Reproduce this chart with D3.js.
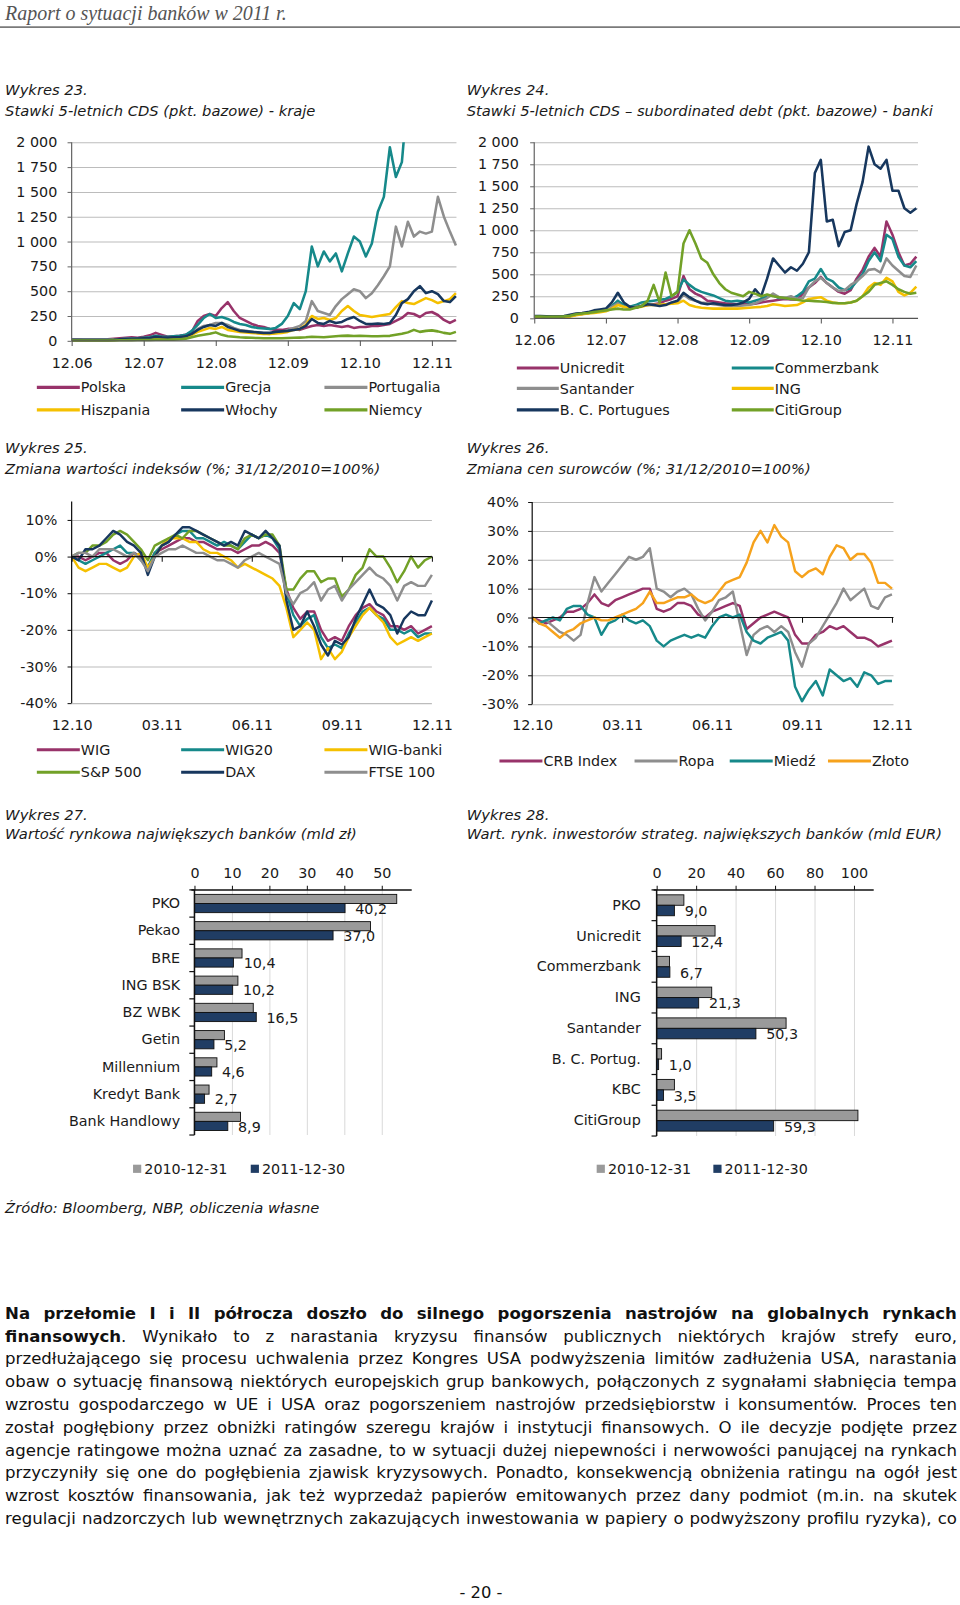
<!DOCTYPE html>
<html><head><meta charset="utf-8">
<script src="https://cdn.jsdelivr.net/npm/d3@7"></script>
<style>
html,body{margin:0;padding:0;background:#fff;}
svg{display:block;}
</style></head><body>
<svg id="page" width="960" height="1605"></svg>
<script>
// ---------------- DATA ----------------
// Wykres 23 / 24: monthly samples, month 0 = 12.2006 ... month 64 = 04.2012
const cdsMonths = d3.range(65);
const cdsTicks = [0,250,500,750,1000,1250,1500,1750,2000];
const cdsXTicks = [0,12,24,36,48,60];
const cdsXLabels = ['12.06','12.07','12.08','12.09','12.10','12.11'];

const names23 = ['Polska','Grecja','Portugalia','Hiszpania','Włochy','Niemcy'];
const polska23 = [15,15,14,14,13,14,15, 20,25,30,35,30, 40,55,80,60,40,45,50,60,
  90,200,250,270,250,330,390,300,230,200, 170,150,140,120,110,110,120,120,110,130,
  150,160,150,160,150,140,150,130,140,140, 150,150,160,170,200,230,280,270,240,280, 290,260,210,180,210];
const grecja23 = [10,10,10,10,10,10,10, 12,15,20,22,25, 30,35,50,40,40,45,50,60,
  100,160,230,270,230,240,220,190,170,160, 140,130,125,120,130,170,250,380,320,500,
  950,750,900,800,880,700,880,1050,1000,850, 980,1300,1450,1950,1650,1800,2500,3000,3500,4500, 6000,8000,9000,8000,7000];
const portugalia23 = [10,10,10,10,10,10,10, 12,15,18,20,20, 22,25,35,30,30,32,35,40,
  60,120,150,160,180,180,160,130,110,100, 90,80,75,70,80,90,110,130,150,200,
  400,300,280,260,350,420,470,520,500,430, 480,560,650,750,1150,950,1200,1050,1100,1080, 1100,1450,1250,1100,960];
const hiszpania23 = [5,5,5,5,5,5,5, 8,10,12,15,15, 18,20,30,25,25,28,30,40,
  60,90,110,130,120,140,110,100,90,85, 80,75,70,70,75,80,90,110,120,160,
  250,220,230,210,230,300,350,300,260,250, 240,250,260,270,340,400,380,370,400,430, 410,380,400,420,480];
const wlochy23 = [8,8,8,8,8,8,8, 10,15,18,20,22, 25,28,40,35,32,35,38,45,
  70,110,140,160,150,180,140,120,100,95, 90,85,80,80,90,95,100,110,120,150,
  220,180,170,200,180,190,220,240,200,170, 170,175,170,180,260,380,420,500,550,480, 500,470,400,390,450];
const niemcy23 = [3,3,3,3,3,3,3, 4,5,6,7,8, 8,9,12,10,10,12,15,20,
  35,50,60,70,85,60,45,40,35,32, 30,28,26,25,25,26,28,30,32,35,
  40,38,36,40,45,50,52,48,50,48, 45,45,48,50,60,70,85,110,90,100, 105,95,80,70,90];

const names24 = ['Unicredit','Commerzbank','Santander','ING','B. C. Portugues','CitiGroup'];
const unicredit24 = [20,20,18,18,18,20,25, 40,50,60,70,80, 100,130,180,140,130,130,140,150,
  160,170,200,220,250,480,330,280,250,200, 190,180,170,165,160,160,160,165,180,190,
  200,210,220,215,210,280,350,400,470,400, 350,300,280,320,450,550,700,800,700,1100, 950,750,600,620,700];
const commerzbank24 = [20,20,18,18,18,20,25, 45,55,60,70,80, 100,140,200,150,130,150,180,190,
  200,210,220,250,300,440,380,330,300,280, 260,230,200,190,200,190,180,200,220,250,
  260,230,230,220,250,300,420,450,560,450, 420,350,320,340,420,500,650,750,650,950, 900,700,600,580,650];
const santander24 = [20,20,18,18,18,20,25, 40,50,60,70,80, 100,130,170,130,120,130,140,150,
  150,155,160,170,180,270,220,200,180,170, 160,150,140,140,140,145,150,170,200,230,
  280,240,230,250,220,230,350,420,460,400, 350,310,320,380,420,480,550,560,520,680, 600,540,480,470,600];
const ing24 = [15,15,14,14,14,15,20, 35,45,55,60,70, 80,110,150,130,120,120,130,150,
  150,155,160,165,170,200,150,130,120,115, 110,110,110,110,110,115,120,125,130,140,
  160,150,140,145,150,180,220,230,240,200, 180,170,170,180,200,250,350,400,380,460, 420,300,260,290,360];
const bcp24 = [25,25,22,20,20,25,40, 55,60,70,90,100, 110,180,290,180,130,120,140,160,
  150,140,150,180,200,290,240,200,170,160, 170,160,150,150,160,180,220,330,250,450,
  680,600,520,580,540,620,750,1650,1800,1100, 1120,820,980,1000,1300,1550,1950,1750,1700,1800, 1450,1450,1250,1200,1250];
const citi24 = [20,20,18,18,18,22,30, 45,55,60,70,80, 90,100,110,100,100,120,140,200,
  380,180,520,250,300,850,1000,850,680,630, 500,400,330,290,270,250,300,280,250,270,
  250,240,230,220,210,200,200,195,190,185, 175,170,170,180,200,250,300,380,400,420, 380,330,300,280,290];

// Wykres 25 / 26: weekly samples over 31.12.2010 - 30.12.2011 (x in months)
const weeks2011 = d3.range(53).map(i => i * 12 / 52);
const yearXTicks = [0,3,6,9,12];
const yearXLabels = ['12.10','03.11','06.11','09.11','12.11'];

const names25 = ['WIG','WIG20','WIG-banki','S&P 500','DAX','FTSE 100'];
const wig25 = [0,0,-1,0,1,1,-1,-2,-1,1, 0,-3,1,2,3,4,5,5,4,4, 3,2,2,2,1,2,3,3,4,3,
  1,-9,-14,-17,-15,-15,-20,-23,-22,-23, -19,-16,-14,-13,-15,-16,-19,-19,-20,-19, -21,-20,-19];
const wig20_25 = [0,-1,-2,-1,0,1,2,3,1,1, -1,-3,1,3,4,6,7,7,5,5, 4,3,4,3,2,4,6,5,6,5,
  2,-10,-16,-19,-17,-16,-22,-25,-24,-25, -21,-18,-15,-14,-16,-17,-20,-20,-21,-20, -22,-21,-21];
const wigBanki25 = [0,-3,-4,-3,-2,-2,-3,-4,-3,0, 1,-3,0,3,5,5,5,4,4,2, 1,1,0,-1,-3,-2,-3,-4,-5,-6,
  -8,-14,-22,-20,-18,-20,-28,-25,-28,-26, -22,-19,-16,-14,-16,-18,-22,-24,-23,-22, -23,-22,-21];
const sp500_25 = [0,1,1,3,3,4,6,7,6,4, 2,-1,3,4,5,6,5,7,7,6, 5,4,3,3,2,5,6,5,6,6,
  3,-9,-9,-6,-4,-4,-7,-6,-6,-11, -9,-5,-3,2,0,0,-3,-7,-4,0, -3,-1,0];
const dax25 = [0,-1,2,2,3,5,7,6,4,3, 1,-5,0,3,4,6,8,8,7,6, 5,4,3,4,3,7,6,5,7,5,
  3,-12,-20,-19,-15,-19,-24,-27,-23,-24, -22,-17,-13,-9,-13,-14,-16,-21,-17,-15, -16,-16,-12];
const ftse25 = [0,1,1,0,2,2,2,1,0,1, -1,-4,0,1,2,2,3,2,1,1, 0,-1,-1,-2,-3,-1,0,1,0,-1,
  -2,-10,-13,-10,-9,-7,-12,-9,-8,-12, -9,-7,-5,-3,-5,-6,-8,-12,-8,-7, -8,-8,-5];

const names26 = ['CRB Index','Ropa','Miedź','Złoto'];
const crb26 = [0,-1,-2,-1,0,2,2,3,5,8, 5,4,6,7,8,9,10,10,3,2, 3,5,5,4,1,0,2,3,4,5,
  4,-4,-2,0,1,2,1,0,-6,-9, -9,-6,-5,-3,-4,-3,-5,-7,-7,-8, -10,-9,-8];
const ropa26 = [0,-2,-1,-3,-5,-6,-8,-6,5,14, 9,12,15,18,21,20,21,24,10,9, 7,9,10,8,3,-1,2,6,7,9,
  -2,-13,-6,-4,-3,-5,-3,-5,-12,-17, -9,-7,-3,1,5,10,6,8,10,4, 3,7,8];
const miedz26 = [0,-2,-1,0,-1,3,4,4,1,0, -6,-2,-1,1,-1,-2,-1,-3,-8,-10, -8,-7,-6,-7,-6,-7,-3,0,1,0,
  1,-5,-8,-9,-7,-6,-5,-8,-24,-29, -25,-22,-27,-18,-20,-22,-21,-24,-19,-20, -23,-22,-22];
const zloto26 = [0,-2,-3,-5,-7,-5,-4,-2,-1,0, -1,-1,0,1,2,3,5,9,5,5, 6,7,7,8,6,5,6,9,12,13,
  14,19,26,30,26,32,28,26,16,14, 16,17,15,21,25,24,20,22,22,19, 12,12,10];

// Wykres 27 / 28
const barSeries = ['2010-12-31','2011-12-30'];
const banks27 = ['PKO','Pekao','BRE','ING BSK','BZ WBK','Getin','Millennium','Kredyt Bank','Bank Handlowy'];
const v27_2010 = [54.0,47.0,12.7,11.6,15.7,8.0,6.0,3.9,12.3];
const v27_2011 = [40.2,37.0,10.4,10.2,16.5,5.2,4.6,2.7,8.9];
const ticks27 = [0,10,20,30,40,50];
const banks28 = ['PKO','Unicredit','Commerzbank','ING','Santander','B. C. Portug.','KBC','CitiGroup'];
const v28_2010 = [13.8,29.6,6.5,27.9,65.6,2.5,9.0,102.0];
const v28_2011 = [9.0,12.4,6.7,21.3,50.3,1.0,3.5,59.3];
const ticks28 = [0,20,40,60,80,100];

const bodyLines = [
 '*Na przełomie I i II półrocza doszło do silnego pogorszenia nastrojów na globalnych rynkach',
 'finansowych*. Wynikało to z narastania kryzysu finansów publicznych niektórych krajów strefy euro,',
 'przedłużającego się procesu uchwalenia przez Kongres USA podwyższenia limitów zadłużenia USA, narastania',
 'obaw o sytuację finansową niektórych europejskich grup bankowych, połączonych z sygnałami słabnięcia tempa',
 'wzrostu gospodarczego w UE i USA oraz pogorszeniem nastrojów przedsiębiorstw i konsumentów. Proces ten',
 'został pogłębiony przez obniżki ratingów szeregu krajów i instytucji finansowych. O ile decyzje podjęte przez',
 'agencje ratingowe można uznać za zasadne, to w sytuacji dużej niepewności i nerwowości panującej na rynkach',
 'przyczyniły się one do pogłębienia zjawisk kryzysowych. Ponadto, konsekwencją obniżenia ratingu na ogół jest',
 'wzrost kosztów finansowania, jak też wyprzedaż papierów emitowanych przez dany podmiot (m.in. na skutek',
 'regulacji nadzorczych lub wewnętrznych zakazujących inwestowania w papiery o podwyższony profilu ryzyka), co'
];

// ---------------- STYLE ----------------
const C = {maroon:'#98336A', teal:'#16898A', grey:'#8E8E8E', yellow:'#F5C000', navy:'#17375E', green:'#72A127', gold:'#F6A21C'};
const FONT = '"DejaVu Sans", Verdana, sans-serif';
const TXT = '#1a1a1a';
const K = 960/938;

const svg = d3.select('#page');
svg.append('rect').attr('width',960).attr('height',1605).attr('fill','#fff');
const defs = svg.append('defs');
const root = svg.append('g').attr('transform', `scale(${K})`).attr('font-family', FONT);

// header
root.append('text').attr('x',5).attr('y',19.5).attr('font-family','"Liberation Serif", serif')
  .attr('font-style','italic').attr('font-size',19.5).attr('fill','#555').text('Raport o sytuacji banków w 2011 r.');
root.append('line').attr('x1',0).attr('x2',938).attr('y1',26.5).attr('y2',26.5).attr('stroke','#7a7a7a').attr('stroke-width',1.6);

const titles = [
 [5,93,'Wykres 23.'],[5,113,'Stawki 5-letnich CDS (pkt. bazowe) - kraje'],
 [456,93,'Wykres 24.'],[456,113,'Stawki 5-letnich CDS – subordinated debt (pkt. bazowe) - banki'],
 [5,443,'Wykres 25.'],[5,463,'Zmiana wartości indeksów (%; 31/12/2010=100%)'],
 [456,443,'Wykres 26.'],[456,463,'Zmiana cen surowców (%; 31/12/2010=100%)'],
 [5,801,'Wykres 27.'],[5,820,'Wartość rynkowa największych banków (mld zł)'],
 [456,801,'Wykres 28.'],[456,820,'Wart. rynk. inwestorów strateg. największych banków (mld EUR)']
];
titles.forEach(t => root.append('text').attr('x',t[0]).attr('y',t[1]).attr('font-size',14.4)
  .attr('font-style','italic').attr('fill',TXT).text(t[2]));

function styleAxis(sel) {
  sel.attr('font-family', FONT).attr('font-size', 14).selectAll('text').attr('fill', TXT);
  sel.select('.domain').remove();
}

function lineChart(c) {
  const g = root.append('g');
  const x = d3.scaleLinear().domain(c.xRef).range(c.xRange);
  const y = d3.scaleLinear().domain(c.yRef).range(c.yRange);
  const x0 = c.xRange[0];
  g.append('g').attr('transform', `translate(${x0},0)`)
    .call(d3.axisRight(y).tickValues(c.yTicks.filter(v => v !== c.axisAt)).tickSize(c.gridEnd - x0).tickFormat(''))
    .call(s => { s.select('.domain').remove(); s.selectAll('line').attr('stroke', '#bcbcbc').attr('stroke-width', 1); });
  const cid = 'clip' + c.id;
  defs.append('clipPath').attr('id', cid).append('rect')
    .attr('x', x0).attr('y', y(c.axisTop)).attr('width', c.gridEnd - x0 + 2).attr('height', y(c.yRef[0]) - y(c.axisTop) + 3);
  const line = d3.line().x((d, i) => x(c.times[i])).y(d => y(d)).curve(d3.curveLinear);
  const sg = g.append('g').attr('clip-path', `url(#${cid})`);
  c.series.forEach(s => sg.append('path').attr('d', line(s.values)).attr('fill', 'none')
    .attr('stroke', s.color).attr('stroke-width', c.lw).attr('stroke-linejoin', 'round'));
  g.append('g').attr('transform', `translate(${x0},0)`)
    .call(d3.axisLeft(y).tickValues(c.yTicks).tickFormat(c.yFmt).tickSize(4).tickPadding(c.yPad))
    .call(styleAxis).call(s => s.selectAll('line').attr('stroke', c.axisColor));
  g.append('line').attr('x1', x0).attr('x2', x0).attr('y1', y(c.axisTop)).attr('y2', y(c.yRef[0]))
    .attr('stroke', c.axisColor).attr('stroke-width', 1.2);
  g.append('line').attr('x1', x0).attr('x2', c.gridEnd).attr('y1', y(c.axisAt)).attr('y2', y(c.axisAt))
    .attr('stroke', c.zeroColor).attr('stroke-width', 1.2);
  g.append('g').attr('transform', `translate(0,${y(c.axisAt)})`)
    .call(d3.axisBottom(x).tickValues(c.xTicks).tickFormat('').tickSize(5))
    .call(s => { s.select('.domain').remove(); s.selectAll('line').attr('stroke', c.zeroColor); });
  g.append('g').attr('transform', `translate(0,${c.xLabelY})`)
    .call(d3.axisBottom(x).tickValues(c.xTicks).tickFormat((d, i) => c.xLabels[i]).tickSize(0).tickPadding(0))
    .call(styleAxis).call(s => s.selectAll('text').attr('dy', 0));
  c.series.forEach((s, i) => {
    const [lx, ly] = c.legend[i];
    g.append('line').attr('x1', lx).attr('x2', lx + c.legW).attr('y1', ly + 0.5).attr('y2', ly + 0.5)
      .attr('stroke', s.color).attr('stroke-width', 3);
    g.append('text').attr('x', lx + c.legW + 1).attr('y', ly + 5.5).attr('font-size', 14).attr('fill', TXT).text(s.name);
  });
}

const fmtSpace = v => d3.format(',')(v).replace(',', ' ');
const fmtPct = v => v + '%';

lineChart({id:23, times:cdsMonths, xRef:[0,60], xRange:[70,422], gridEnd:446,
  yRef:[0,2000], yRange:[333,139], yTicks:cdsTicks, yFmt:fmtSpace, yPad:10, axisAt:0, axisTop:2000,
  xTicks:cdsXTicks, xLabels:cdsXLabels, xLabelY:360, lw:2.5, axisColor:'#666', zeroColor:'#555', legW:42,
  series:[{name:names23[0],values:polska23,color:C.maroon},{name:names23[1],values:grecja23,color:C.teal},
          {name:names23[2],values:portugalia23,color:C.grey},{name:names23[3],values:hiszpania23,color:C.yellow},
          {name:names23[4],values:wlochy23,color:C.navy},{name:names23[5],values:niemcy23,color:C.green}],
  legend:[[36,378],[177,378],[317,378],[36,400],[177,400],[317,400]]});

lineChart({id:24, times:cdsMonths, xRef:[0,60], xRange:[522,872], gridEnd:897,
  yRef:[0,2000], yRange:[311,139], yTicks:cdsTicks, yFmt:fmtSpace, yPad:11, axisAt:0, axisTop:2000,
  xTicks:cdsXTicks, xLabels:cdsXLabels, xLabelY:337, lw:2.5, axisColor:'#666', zeroColor:'#555', legW:41,
  series:[{name:names24[0],values:unicredit24,color:C.maroon},{name:names24[1],values:commerzbank24,color:C.teal},
          {name:names24[2],values:santander24,color:C.grey},{name:names24[3],values:ing24,color:C.yellow},
          {name:names24[4],values:bcp24,color:C.navy},{name:names24[5],values:citi24,color:C.green}],
  legend:[[505,359],[715,359],[505,379],[715,379],[505,400],[715,400]]});

lineChart({id:25, times:weeks2011, xRef:[0,12], xRange:[70,422], gridEnd:422,
  yRef:[-40,10], yRange:[687,508], yTicks:[-40,-30,-20,-10,0,10], yFmt:fmtPct, yPad:10, axisAt:0, axisTop:15,
  xTicks:yearXTicks, xLabels:yearXLabels, xLabelY:713, lw:2.4, axisColor:'#111', zeroColor:'#111', legW:42,
  series:[{name:names25[0],values:wig25,color:C.maroon},{name:names25[1],values:wig20_25,color:C.teal},
          {name:names25[2],values:wigBanki25,color:C.yellow},{name:names25[3],values:sp500_25,color:C.green},
          {name:names25[4],values:dax25,color:C.navy},{name:names25[5],values:ftse25,color:C.grey}],
  legend:[[36,732],[177,732],[317,732],[36,754],[177,754],[317,754]]});

lineChart({id:26, times:weeks2011, xRef:[0,12], xRange:[520,871.5], gridEnd:873,
  yRef:[-30,40], yRange:[688,490.5], yTicks:[-30,-20,-10,0,10,20,30,40], yFmt:fmtPct, yPad:9, axisAt:0, axisTop:40,
  xTicks:yearXTicks, xLabels:yearXLabels, xLabelY:713, lw:2.4, axisColor:'#111', zeroColor:'#111', legW:42,
  series:[{name:names26[0],values:crb26,color:C.maroon},{name:names26[1],values:ropa26,color:C.grey},
          {name:names26[2],values:miedz26,color:C.teal},{name:names26[3],values:zloto26,color:C.gold}],
  legend:[[488,743],[620,743],[713,743],[809,743]]});

// ---------------- BAR CHARTS ----------------
const fmtComma = v => d3.format('.1f')(v).replace('.', ',');
function barChart(c) {
  const g = root.append('g');
  const x = d3.scaleLinear().domain(c.xDomain).range(c.xRange);
  const yb = d3.scaleBand().domain(c.cats).range([c.top, c.bottom]);
  const bw = yb.bandwidth();
  const h = bw * c.hFrac;
  const x0 = c.xRange[0];
  g.append('g').attr('transform', `translate(0,${c.top})`)
    .call(d3.axisBottom(x).tickValues(c.ticks.filter(v => v > 0)).tickSize(c.bottom - c.top).tickFormat(''))
    .call(s => { s.select('.domain').remove(); s.selectAll('line').attr('stroke', '#dadada'); });
  c.cats.forEach((cat, i) => {
    const yTop = yb(cat) + (bw - 2 * h) / 2;
    g.append('rect').attr('x', x0).attr('y', yTop).attr('width', x(c.v1[i]) - x0).attr('height', h)
      .attr('fill', '#9a9a9a').attr('stroke', '#111').attr('stroke-width', 0.9);
    g.append('rect').attr('x', x0).attr('y', yTop + h).attr('width', x(c.v2[i]) - x0).attr('height', h)
      .attr('fill', '#203D64').attr('stroke', '#111').attr('stroke-width', 0.9);
    g.append('text').attr('x', x(c.v2[i]) + 10).attr('y', yTop + 1.5 * h + 5.5).attr('font-size', 14)
      .attr('fill', TXT).text(fmtComma(c.v2[i]));
  });
  g.append('g').attr('transform', `translate(0,${c.top})`)
    .call(d3.axisTop(x).tickValues(c.ticks).tickSize(4).tickPadding(8))
    .call(styleAxis).call(s => s.selectAll('line').attr('stroke', '#111'));
  g.append('line').attr('x1', x0 - 3).attr('x2', c.xRange[1]).attr('y1', c.top).attr('y2', c.top).attr('stroke', '#111').attr('stroke-width', 1.5);
  g.append('line').attr('x1', x0).attr('x2', x0).attr('y1', c.top).attr('y2', c.bottom).attr('stroke', '#111').attr('stroke-width', 1.5);
  c.cats.concat([null]).forEach((cat) => {
    const yy = cat === null ? c.bottom : yb(cat);
    g.append('line').attr('x1', x0 - 5).attr('x2', x0).attr('y1', yy).attr('y2', yy).attr('stroke', '#111').attr('stroke-width', 1.2);
  });
  g.append('g').attr('transform', `translate(${x0},0)`)
    .call(d3.axisLeft(yb).tickSize(0).tickPadding(c.catPad))
    .call(styleAxis);
  const cols = ['#9a9a9a', '#203D64'];
  barSeries.forEach((name, i) => {
    const [lx, ly] = c.legend[i];
    g.append('rect').attr('x', lx).attr('y', ly - 4).attr('width', 8).attr('height', 8).attr('fill', cols[i]);
    g.append('text').attr('x', lx + 11).attr('y', ly + 5.5).attr('font-size', 14).attr('fill', TXT).text(name);
  });
}

barChart({cats:banks27, v1:v27_2010, v2:v27_2011, ticks:ticks27, xDomain:[0,58], xRange:[190,190+58*3.66],
  top:869.5, bottom:1109, hFrac:0.335, catPad:14, legend:[[130,1142],[245,1142]]});
barChart({cats:banks28, v1:v28_2010, v2:v28_2011, ticks:ticks28, xDomain:[0,110], xRange:[641.6,641.6+110*1.928],
  top:869.5, bottom:1110, hFrac:0.34, catPad:15.5, legend:[[583,1142],[697,1142]]});

root.append('text').attr('x',5).attr('y',1185).attr('font-size',14.4).attr('font-style','italic').attr('fill',TXT)
  .text('Źródło: Bloomberg, NBP, obliczenia własne');

// body text, justified line by line
let bold = false;
const W = 930, BX = 5;
bodyLines.forEach((ln, li) => {
  const y = 1288.5 + li * 22.3;
  const tokens = ln.split(' ');
  let fs = 16.2;
  const els = tokens.map(tok => {
    const t = root.append('text').attr('y', y).attr('font-size', fs).attr('fill', '#111');
    tok.split('*').forEach((p, pi) => {
      if (pi > 0) bold = !bold;
      if (p.length) t.append('tspan').attr('font-weight', bold ? 'bold' : 'normal').text(p);
    });
    return t;
  });
  let widths = els.map(e => e.node().getComputedTextLength());
  let total = d3.sum(widths);
  if (W - total < 3.5 * (els.length - 1)) {
    const f = (W - 3.5 * (els.length - 1)) / total;
    fs *= f; els.forEach(e => e.attr('font-size', fs));
    widths = els.map(e => e.node().getComputedTextLength()); total = d3.sum(widths);
  }
  const gap = (W - total) / (els.length - 1);
  let xx = BX;
  els.forEach((e, i) => { e.attr('x', xx); xx += widths[i] + gap; });
});

root.append('text').attr('x',470).attr('y',1561).attr('text-anchor','middle').attr('font-size',16).attr('fill','#111').text('- 20 -');
</script></body></html>
